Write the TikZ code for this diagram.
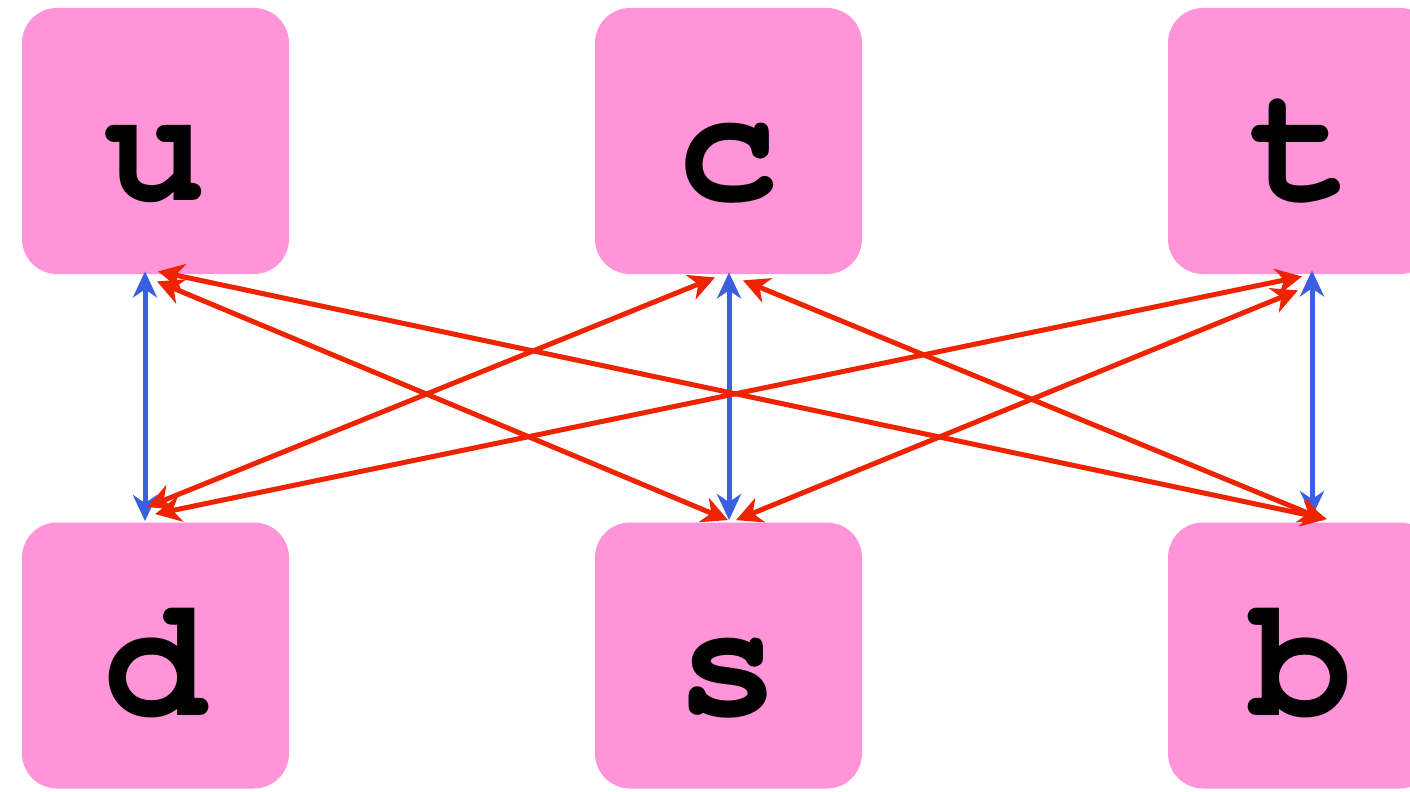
\documentclass[tikz,border=0pt]{standalone}
\usepackage[T1]{fontenc}
\usetikzlibrary{arrows.meta,calc}
\definecolor{boxpink}{RGB}{255,148,216}
\definecolor{arrred}{RGB}{238,36,0}
\definecolor{arrblue}{RGB}{58,95,224}
\newcommand\quarkfont{\fontencoding{T1}\fontfamily{pcr}\fontseries{b}\fontsize{86}{86}\selectfont}
\tikzset{
  quark/.style={rectangle, rounded corners=17.5pt, fill=boxpink, draw=none,
    minimum width=133.5pt, minimum height=133pt, inner sep=0pt},
  lbl/.style={anchor=base, inner sep=0pt, font=\quarkfont},
  redarr/.style={draw=arrred, line width=2.5pt, {Stealth[length=13pt,width=13pt,inset=4pt]}-{Stealth[length=13pt,width=13pt,inset=4pt]}},
  bluearr/.style={draw=arrblue, line width=2.5pt, {Stealth[length=13pt,width=12pt,inset=4pt]}-{Stealth[length=13pt,width=12pt,inset=4pt]}}
}
\begin{document}
\begin{tikzpicture}[x=0.5pt,y=-0.5pt]
\useasboundingbox (0,0) rectangle (1410,792);
\clip (0,0) rectangle (1410,792);
\node[quark] (u) at (155.5,141) {};
\node[quark] (c) at (728.5,141) {};
\node[quark] (t) at (1301.5,141) {};
\node[quark] (d) at (155.5,655.5) {};
\node[quark] (s) at (728.5,655.5) {};
\node[quark] (b) at (1301.5,655.5) {};
\node[lbl] (ul) at ($(u.center)+(0,60)$) {u};
\node[lbl] (cl) at ($(c.center)+(0,60)$) {c};
\node[lbl] (tl) at ($(t.center)+(0,60)$) {t};
\node[lbl] (dl) at ($(d.center)+(0,60)$) {d};
\node[lbl] (sl) at ($(s.center)+(0,60)$) {s};
\node[lbl] (bl) at ($(b.center)+(0,60)$) {b};
% blue vertical
\draw[bluearr] ($(u.south)+(-10.5,-3)$) -- ($(d.north)+(-10.5,-1)$);
\draw[bluearr] ($(c.south)+(0.5,-2)$) -- ($(s.north)+(0.5,-2)$);
\draw[bluearr] ($(t.south)+(10.5,-4)$) -- ($(b.north)+(10.5,-5)$);
% red diagonals
\draw[redarr] ($(u.south)+(2.5,-3)$) -- ($(b.north)+(25.5,-3)$);
\draw[redarr] ($(u.south)+(1.5,7)$) -- ($(s.north)+(-0.5,-2)$);
\draw[redarr] ($(c.south)+(-13.5,3)$) -- ($(d.north)+(-8.5,-15)$);
\draw[redarr] ($(c.south)+(14.5,6)$) -- ($(b.north)+(23.5,-2)$);
\draw[redarr] ($(t.south)+(0.5,2)$) -- ($(d.north)+(-0.5,-8)$);
\draw[redarr] ($(t.south)+(-3.5,16)$) -- ($(s.north)+(7.5,-2)$);
\end{tikzpicture}
\end{document}
